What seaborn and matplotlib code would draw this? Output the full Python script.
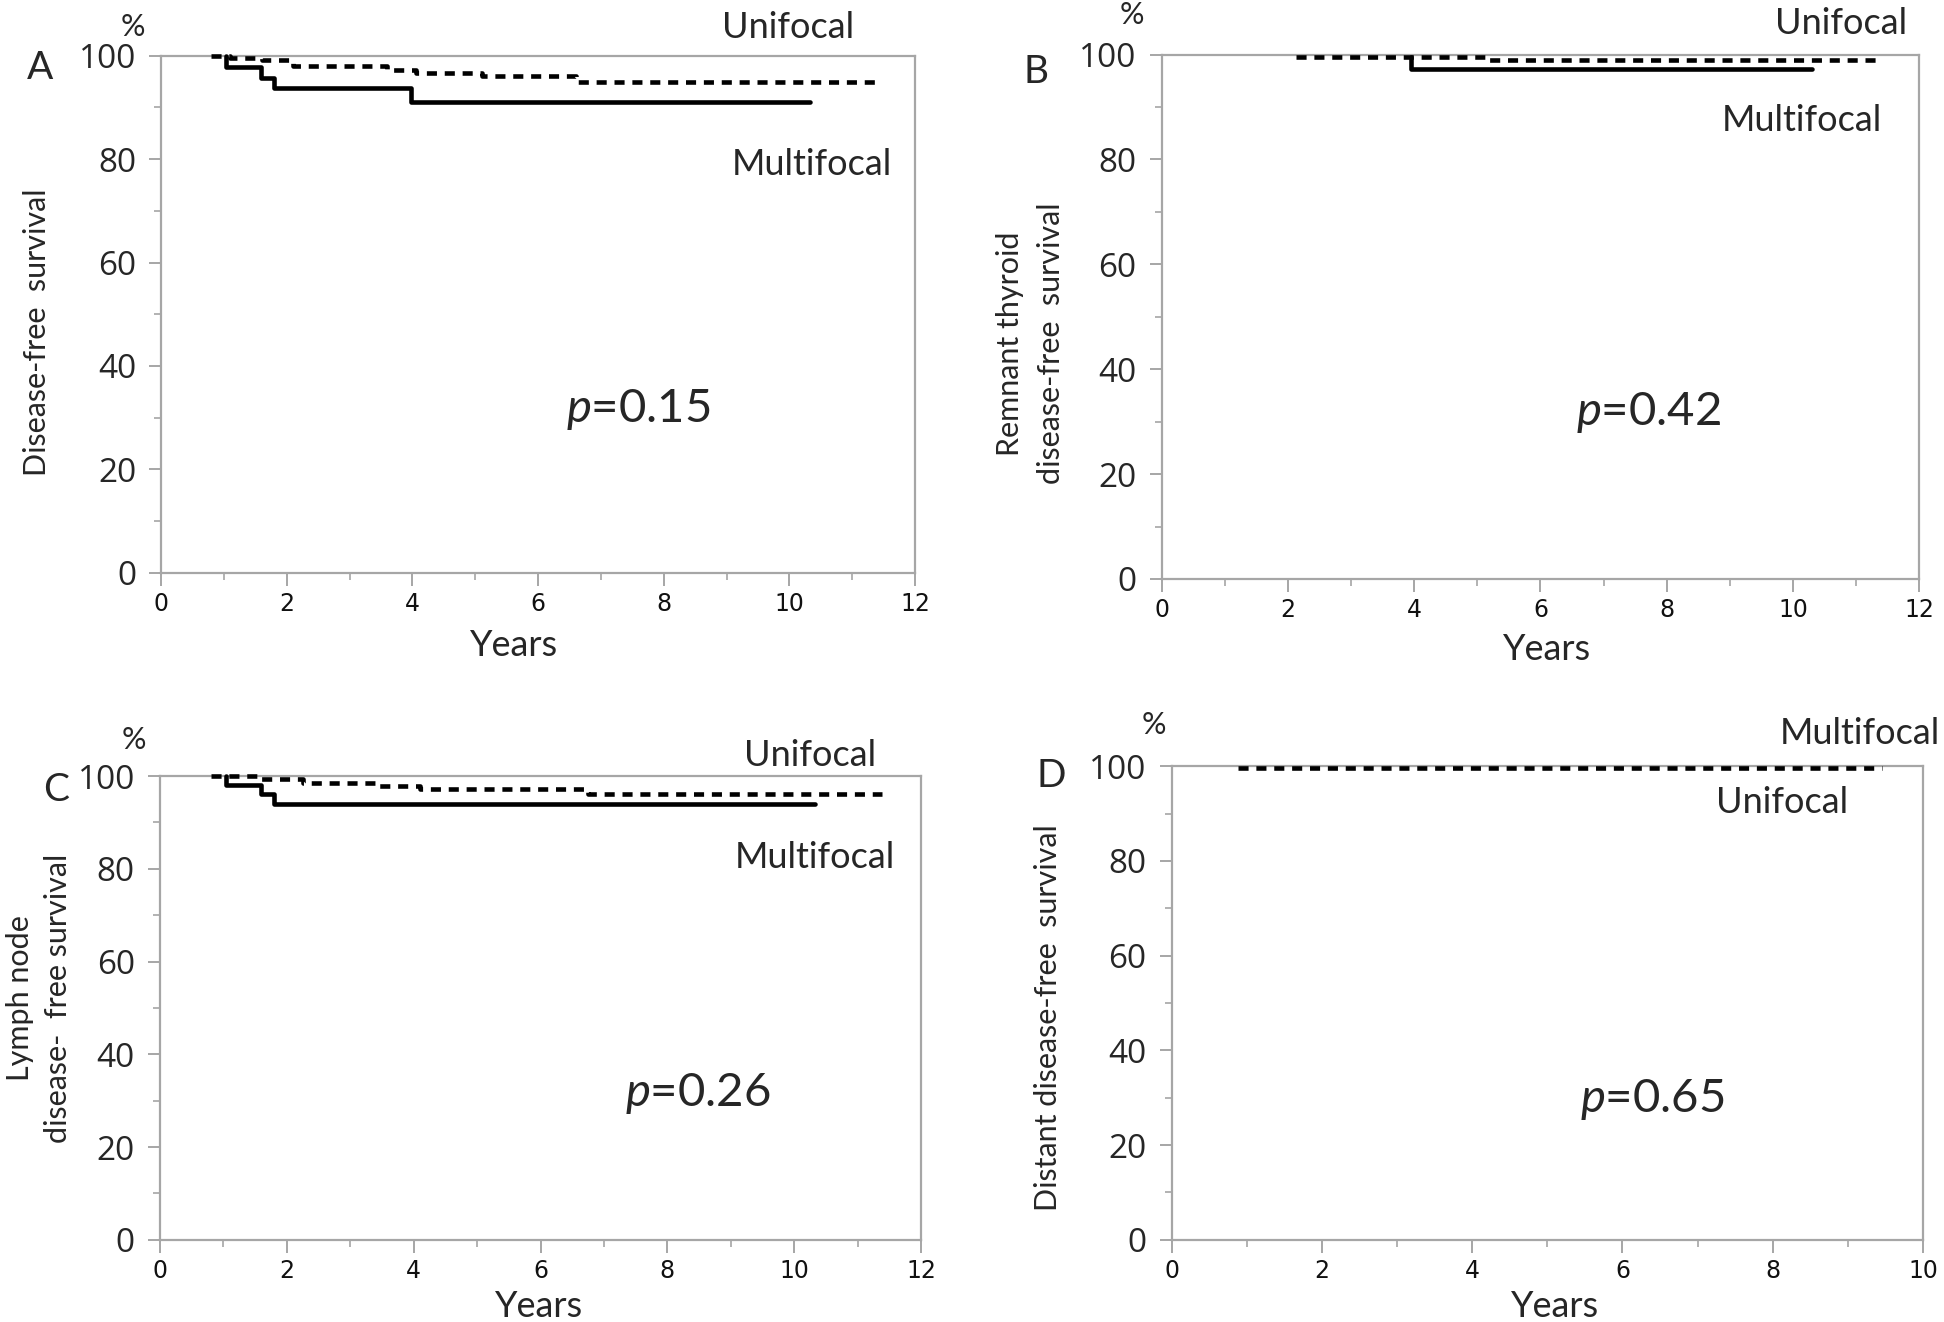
import matplotlib
matplotlib.use("Agg")
import matplotlib.pyplot as plt
from matplotlib.ticker import MultipleLocator
import seaborn as sns
import pandas as pd

# ---------------- data ----------------
# Panel A: disease-free survival
a_multi_t = [1.03, 1.03, 1.59, 1.80, 3.98, 10.33]
a_multi_s = [100, 97.9, 95.8, 93.7, 91.0, 91.0]
a_uni_t = [0.80, 1.10, 1.60, 2.10, 3.60, 4.05, 5.10, 6.60, 11.37]
a_uni_s = [100, 99.6, 99.2, 98.0, 97.2, 96.7, 96.0, 94.9, 94.9]
# Panel B: remnant thyroid disease-free survival
b_multi_t = [3.95, 3.95, 10.30]
b_multi_s = [99.5, 97.3, 97.3]
b_uni_t = [2.12, 5.12, 11.35]
b_uni_s = [99.5, 99.0, 99.0]
# Panel C: lymph node disease-free survival
c_multi_t = [1.04, 1.04, 1.59, 1.80, 10.33]
c_multi_s = [100, 98.1, 96.1, 93.9, 93.9]
c_uni_t = [0.80, 1.60, 2.25, 3.45, 4.10, 6.75, 11.38]
c_uni_s = [100, 99.3, 98.6, 97.9, 97.2, 96.2, 96.2]
# Panel D: distant disease-free survival
d_uni_t = [0.88, 9.46]
d_uni_s = [99.7, 99.7]

p_values = ["0.15", "0.42", "0.26", "0.65"]
panel_letters = ["A", "B", "C", "D"]
x_max = [12, 12, 12, 10]

# ---------------- style ----------------
sns.set_theme(style="white")
plt.rcParams["font.family"] = ["Lato", "DejaVu Sans"]
plt.rcParams["mathtext.fontset"] = "custom"
plt.rcParams["mathtext.it"] = "Lato:italic"
plt.rcParams["mathtext.rm"] = "Lato"

W, H = 1944, 1322
fig = plt.figure(figsize=(W / 100, H / 100), dpi=100)
fig.patch.set_facecolor("white")

SP = "#a6a6a6"
S = 1944 / 1568.0  # reference-preview to full scale


def fx(x):
    return x * S / W


def fy(y):
    return 1 - y * S / H


def box(l, t, r, b):
    return [fx(l), fy(b), fx(r) - fx(l), fy(t) - fy(b)]


axes_boxes = [
    box(130, 45, 738, 462),
    box(937, 44, 1548, 467),
    box(129, 626, 743, 1000),
    box(945, 618, 1551, 1000),
]

curves = [
    [(a_uni_t, a_uni_s, "Unifocal"), (a_multi_t, a_multi_s, "Multifocal")],
    [(b_uni_t, b_uni_s, "Unifocal"), (b_multi_t, b_multi_s, "Multifocal")],
    [(c_uni_t, c_uni_s, "Unifocal"), (c_multi_t, c_multi_s, "Multifocal")],
    [(d_uni_t, d_uni_s, "Unifocal")],
]

axes = []
for i, bx in enumerate(axes_boxes):
    ax = fig.add_axes(bx)
    axes.append(ax)
    for t, s, grp in curves[i]:
        df = pd.DataFrame({"t": t, "s": s})
        if grp == "Unifocal":
            ls = (0, (2.2, 1.7))
        else:
            ls = "-"
        sns.lineplot(data=df, x="t", y="s", ax=ax, color="black", lw=3.3,
                     linestyle=ls, drawstyle="steps-post", estimator=None,
                     sort=False, clip_on=False, zorder=3)
    ax.set_xlim(0, x_max[i])
    ax.set_ylim(0, 100)
    ax.set_xlabel("")
    ax.set_ylabel("")
    for sp in ax.spines.values():
        sp.set_visible(True)
        sp.set_color(SP)
        sp.set_linewidth(1.6)
    ax.xaxis.set_major_locator(MultipleLocator(2))
    ax.xaxis.set_minor_locator(MultipleLocator(1))
    ax.yaxis.set_major_locator(MultipleLocator(20))
    ax.yaxis.set_minor_locator(MultipleLocator(10))
    ax.tick_params(axis="x", which="major", direction="out", length=9, width=1.4,
                   color=SP, pad=5, labelsize=17, labelcolor="#111111",
                   bottom=True)
    ax.tick_params(axis="x", which="minor", direction="out", length=5, width=1.2,
                   color=SP, bottom=True)
    ax.tick_params(axis="y", which="major", direction="out", length=9, width=1.4,
                   color=SP, pad=9, labelsize=24, left=True)
    ax.tick_params(axis="y", which="minor", direction="out", length=5, width=1.2,
                   color=SP, left=True)
    for lab in ax.get_yticklabels():
        lab.set_family(["Open Sans", "DejaVu Sans"])
    for lab in ax.get_xticklabels():
        lab.set_family(["DejaVu Sans"])
    ax.set_facecolor("white")

# ---------------- texts ----------------
def T(x, y, s, size, **kw):
    fig.text(fx(x), fy(y), s, fontsize=size, ha=kw.pop("ha", "center"),
             va=kw.pop("va", "center"), **kw)

# Panel A
T(107, 22, "%", 22)
T(32, 55, "A", 28)
T(636, 22, "Unifocal", 26)
T(655, 133, "Multifocal", 26)
T(515, 330, r"$p$=0.15", 34)
T(30, 268, "Disease-free  survival", 22, rotation=90)
T(415, 521, "Years", 26)

# Panel B
T(913, 12, "%", 22)
T(836, 58, "B", 28)
T(1485, 19, "Unifocal", 26)
T(1453, 97, "Multifocal", 26)
T(1330, 333, r"$p$=0.42", 34)
T(815, 277, "Remnant thyroid", 22, rotation=90)
T(848, 277, "disease-free  survival", 22, rotation=90)
T(1248, 524, "Years", 26)

# Panel C
T(108, 597, "%", 22)
T(45, 637, "C", 28)
T(653, 609, "Unifocal", 26)
T(657, 692, "Multifocal", 26)
T(563, 882, r"$p$=0.26", 34)
T(16, 805, "Lymph node", 22, rotation=90)
T(47, 805, "disease-  free survival", 22, rotation=90)
T(435, 1054, "Years", 26)

# Panel D
T(931, 585, "%", 22)
T(848, 626, "D", 28)
T(1500, 592, "Multifocal", 26)
T(1437, 647, "Unifocal", 26)
T(1333, 887, r"$p$=0.65", 34)
T(845, 821, "Distant disease-free  survival", 22, rotation=90)
T(1254, 1054, "Years", 26)

fig.savefig("out.png", dpi=100, facecolor="white")
